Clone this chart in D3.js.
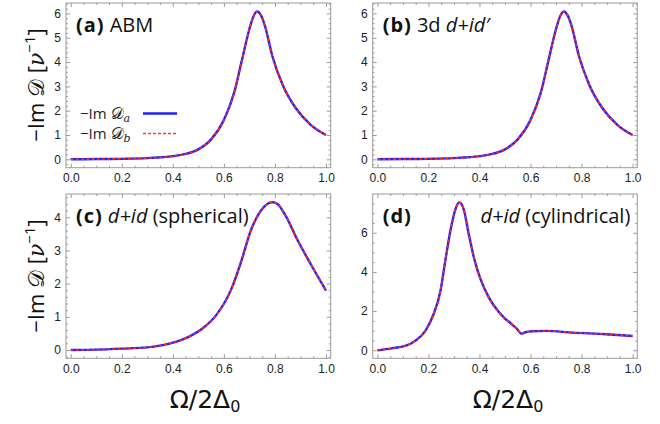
<!DOCTYPE html>
<html><head><meta charset="utf-8">
<script src="https://cdn.jsdelivr.net/npm/d3@7"></script>
<style>body{margin:0;background:#fff}svg{display:block}</style>
</head><body>
<svg id="chart" width="660" height="424"></svg>
<script>
// ---- data ----
const xTickValues = [0, 0.2, 0.4, 0.6, 0.8, 1.0];
const xTickLabels = ["0.0", "0.2", "0.4", "0.6", "0.8", "1.0"];

const abmX = [0, 0.1, 0.2, 0.3, 0.4, 0.45, 0.5, 0.55, 0.6, 0.64, 0.67, 0.7, 0.715, 0.73, 0.745, 0.76, 0.79, 0.83, 0.88, 0.94, 1.0];
const abmY = [0, 0.01, 0.02, 0.05, 0.13, 0.22, 0.41, 0.82, 1.62, 2.73, 4.05, 5.36, 5.86, 6.08, 5.93, 5.52, 4.24, 3.07, 2.13, 1.42, 1.0];

const dpX = [0, 0.1, 0.2, 0.3, 0.4, 0.45, 0.5, 0.55, 0.6, 0.64, 0.67, 0.7, 0.715, 0.73, 0.745, 0.76, 0.79, 0.83, 0.88, 0.94, 1.0];
const dpY = [0, 0.01, 0.02, 0.05, 0.13, 0.22, 0.41, 0.82, 1.62, 2.73, 4.05, 5.36, 5.86, 6.08, 5.93, 5.52, 4.24, 3.07, 2.13, 1.42, 1.0];

const sphX = [0, 0.1, 0.2, 0.3, 0.39, 0.46, 0.52, 0.57, 0.63, 0.67, 0.705, 0.745, 0.77, 0.79, 0.81, 0.84, 0.89, 0.94, 1.0];
const sphY = [0, 0.01, 0.04, 0.08, 0.20, 0.39, 0.67, 1.05, 1.85, 2.72, 3.59, 4.20, 4.40, 4.45, 4.40, 4.07, 3.29, 2.59, 1.79];

const cylX = [0, 0.056, 0.109, 0.148, 0.188, 0.22, 0.247, 0.266, 0.286, 0.306, 0.321, 0.338, 0.358, 0.378, 0.404, 0.437, 0.476, 0.5, 0.522, 0.545, 0.565, 0.58, 0.607, 0.66, 0.765, 0.896, 1.0];
const cylY = [0, 0.10, 0.22, 0.48, 0.99, 1.84, 3.03, 4.57, 6.10, 7.21, 7.55, 7.21, 5.93, 4.74, 3.63, 2.69, 1.95, 1.62, 1.38, 1.12, 0.85, 0.92, 0.97, 0.99, 0.90, 0.82, 0.73];

const yTicksAB = [0, 1, 2, 3, 4, 5, 6];
const yTicksC = [0, 1, 2, 3, 4];
const yTicksD = [0, 2, 4, 6];

const panels = [
  {x: abmX, y: abmY, yTicks: yTicksAB, yMinorStep: 0.2, yDom: [-0.345, 6.43], box: [66, 3, 330.7, 167.7], tag: "(a)", title: [["ABM", "normal"]], legend: true},
  {x: dpX, y: dpY, yTicks: yTicksAB, yMinorStep: 0.2, yDom: [-0.345, 6.43], box: [372.7, 3, 637.3, 167.7], tag: "(b)", title: [["3d ", "normal"], ["d+id\u2032", "italic"]]},
  {x: sphX, y: sphY, yTicks: yTicksC, yMinorStep: 0.2, yDom: [-0.25, 4.70], box: [66, 194, 330.7, 358.3], tag: "(c)", title: [["d+id", "italic"], [" (spherical)", "normal"]]},
  {x: cylX, y: cylY, yTicks: yTicksD, yMinorStep: 0.5, yDom: [-0.41, 7.98], box: [372.7, 194, 637.3, 358.3], tag: "(d)", title: [["d+id", "italic"], [" (cylindrical)", "normal"]], titleRight: true}
];

const svg = d3.select("#chart");
const frameColor = "#9a9a9a";
const labelColor = "#222";
const tickFont = "Liberation Sans, Arial, sans-serif";
const textFont = "Open Sans, sans-serif";

panels.forEach(p => {
  const [l, t, r, b] = p.box;
  const x = d3.scaleLinear().domain([-0.0185, 1.0185]).range([l, r]);
  const y = d3.scaleLinear().domain(p.yDom).range([b, t]);
  const g = svg.append("g");

  const xMinor = d3.range(0, 1.0001, 0.05).filter(v => xTickValues.every(m => Math.abs(m - v) > 1e-6));
  const yMinor = d3.range(Math.ceil(p.yDom[0] / p.yMinorStep) * p.yMinorStep, p.yDom[1], p.yMinorStep)
    .filter(v => p.yTicks.every(m => Math.abs(m - v) > 1e-6));

  function addAxis(axisFn, scale, vals, size, transform, labels) {
    const ax = axisFn(scale).tickValues(vals).tickSizeInner(-size).tickSizeOuter(0).tickPadding(6);
    ax.tickFormat(labels ? labels : () => "");
    const a = g.append("g").attr("transform", transform).call(ax);
    a.select(".domain").remove();
    a.selectAll("line").attr("stroke", frameColor).attr("stroke-width", 1);
    a.selectAll("text").attr("fill", labelColor).attr("font-family", tickFont).attr("font-size", 12);
    return a;
  }
  addAxis(d3.axisBottom, x, xTickValues, 4, `translate(0,${b})`, (d, i) => xTickLabels[i]);
  addAxis(d3.axisBottom, x, xMinor, 2, `translate(0,${b})`);
  addAxis(d3.axisTop, x, xTickValues, 4, `translate(0,${t})`);
  addAxis(d3.axisTop, x, xMinor, 2, `translate(0,${t})`);
  addAxis(d3.axisLeft, y, p.yTicks, 4, `translate(${l},0)`, d => d3.format("d")(d)).selectAll("text").attr("dx", "1");
  addAxis(d3.axisLeft, y, yMinor, 2, `translate(${l},0)`);
  addAxis(d3.axisRight, y, p.yTicks, 4, `translate(${r},0)`);
  addAxis(d3.axisRight, y, yMinor, 2, `translate(${r},0)`);

  g.append("rect").attr("x", l).attr("y", t).attr("width", r - l).attr("height", b - t)
    .attr("fill", "none").attr("stroke", frameColor).attr("stroke-width", 1);

  const pts = p.x.map((v, i) => [v, p.y[i]]);
  const line = d3.line().x(d => x(d[0])).y(d => y(d[1])).curve(d3.curveMonotoneX);
  g.append("path").attr("d", line(pts)).attr("fill", "none").attr("stroke", "#1f1fff").attr("stroke-width", 2.4);
  g.append("path").attr("d", line(pts)).attr("fill", "none").attr("stroke", "#ff2a2a").attr("stroke-width", 1.6).attr("stroke-dasharray", "3,2.2");

  // panel title
  const ty = t + 29;
  const tt = g.append("text").attr("y", ty).attr("font-family", textFont).attr("font-size", 20).attr("fill", "#111");
  tt.attr("x", l + 10);
  tt.append("tspan").attr("font-weight", "bold").attr("letter-spacing", 1).text(p.tag);
  if (!p.titleRight) {
    p.title.forEach((s, i) => tt.append("tspan").attr("dx", i === 0 ? 5 : 0).attr("font-style", s[1]).text(s[0]));
  } else {
    const t2 = g.append("text").attr("x", r - 7).attr("y", ty).attr("text-anchor", "end")
      .attr("font-family", textFont).attr("font-size", 20).attr("fill", "#111");
    p.title.forEach(s => t2.append("tspan").attr("font-style", s[1]).text(s[0]));
  }

  if (p.legend) {
    const items = [["a", "#1f1fff", null, 2.4], ["b", "#ff3333", "3,2", 1.6]];
    items.forEach((it, i) => {
      const ly = 113.5 + i * 20;
      const lt = g.append("text").attr("x", 80).attr("y", ly + 5).attr("font-family", textFont).attr("font-size", 15).attr("fill", "#222");
      lt.append("tspan").text("\u2212Im ");
      lt.append("tspan").attr("font-family", "DejaVu Serif, serif").attr("font-size", 16).text("\uD835\uDC9F");
      lt.append("tspan").attr("font-family", "DejaVu Serif, serif").attr("font-style", "italic").attr("font-size", 11).attr("dy", 3).text(it[0]);
      g.append("line").attr("x1", 143).attr("x2", 177).attr("y1", ly).attr("y2", ly)
        .attr("stroke", it[1]).attr("stroke-width", it[3]).attr("stroke-dasharray", it[2]);
    });
  }
});

// y axis labels
[85, 276].forEach(cy => {
  const t = svg.append("text").attr("transform", `translate(44,${cy}) rotate(-90)`).attr("text-anchor", "middle")
    .attr("font-family", textFont).attr("font-size", 22).attr("fill", "#111");
  t.append("tspan").text("\u2212Im ");
  t.append("tspan").attr("font-family", "DejaVu Serif, serif").text("\uD835\uDC9F");
  t.append("tspan").text(" [");
  t.append("tspan").attr("font-family", "DejaVu Serif, serif").attr("font-style", "italic").text("\u03BD");
  t.append("tspan").attr("font-size", 15).attr("dy", -9).text("\u22121");
  t.append("tspan").attr("dy", 9).text("]");
});
// x axis labels
[205, 508].forEach(cx => {
  const t = svg.append("text").attr("x", cx).attr("y", 408).attr("text-anchor", "middle")
    .attr("font-family", "DejaVu Sans, sans-serif").attr("font-size", 25).attr("fill", "#111");
  t.append("tspan").text("\u03A9/2\u0394");
  t.append("tspan").attr("font-size", 16).attr("dy", 4).text("0");
});
</script>
</body></html>
